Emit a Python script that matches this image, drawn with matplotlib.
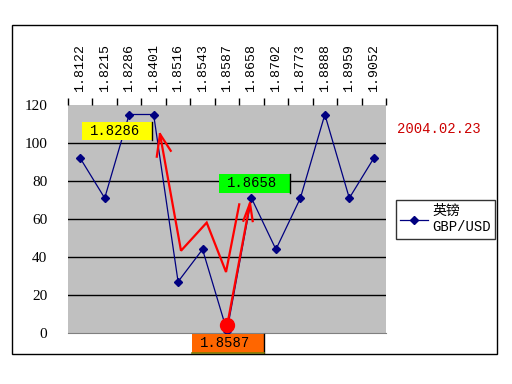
import numpy as np
import matplotlib
matplotlib.use("Agg")
import matplotlib.pyplot as plt
from matplotlib.patches import Rectangle

# data
rates = ["1.8122", "1.8215", "1.8286", "1.8401", "1.8516", "1.8543", "1.8587",
         "1.8658", "1.8702", "1.8773", "1.8888", "1.8959", "1.9052"]
values = [92, 71, 115, 115, 27, 44, 1, 71, 44, 71, 115, 71, 92]
yticks = [0, 20, 40, 60, 80, 100, 120]
series_name = "英镑\nGBP/USD"
date_text = "2004.02.23"

# hand drawn red strokes (data coords)
red_path1 = [(6.50, 67.7), (5.96, 32.1), (5.17, 58.1), (4.12, 43.3), (3.26, 104.7)]
red_head1 = [(3.13, 92.8), (3.26, 104.7), (3.70, 95.9)]
red_path2 = [(6.01, 4.2), (6.94, 68.3)]
red_head2 = [(6.67, 59.1), (6.94, 68.3), (7.05, 58.9)]
red_dot = (6.0, 4.2)

# label boxes: text, x0, x1, y0, y1, colour
boxes = [("1.8286", 0.07, 2.94, 101.5, 111.0, "#ffff00"),
         ("1.8658", 5.67, 8.58, 73.7, 83.7, "#00ff00"),
         ("1.8587", 4.57, 7.50, -10.5, -0.5, "#ff6600")]

mono = ["Liberation Mono", "Noto Sans CJK SC", "DejaVu Sans"]

fig = plt.figure(figsize=(5.12, 3.84), dpi=100)
fig.patch.set_facecolor("white")
fig.add_artist(Rectangle((12/512, 30/384), 485/512, 329/384, transform=fig.transFigure,
                         fill=False, edgecolor="black", lw=1))

ax = fig.add_axes([68/512, 51/384, 318/512, 228/384])
ax.set_facecolor("#c0c0c0")
x = np.arange(len(values))
ax.set_xlim(-0.5, len(values) - 0.5)
ax.set_ylim(0, 120)

for yv in yticks[1:-1]:
    ax.axhline(yv, color="black", lw=1, zorder=1)

line, = ax.plot(x, values, color="#000080", lw=0.9, marker="D", ms=4,
                mec="#000080", mfc="#000080", zorder=3, label=series_name)

# category labels on top
ax.xaxis.tick_top()
ax.set_xticks(x)
ax.set_xticklabels(rates, rotation=90, family=mono, fontsize=9.5)
ax.set_xticks(np.arange(-0.5, len(values)), minor=True)
ax.tick_params(axis="x", which="major", length=0, pad=9)
ax.tick_params(axis="x", which="minor", length=5, width=1, color="black", top=True, bottom=False)

ax.set_yticks(yticks)
ax.set_yticklabels([str(v) for v in yticks], family="Liberation Serif", fontsize=11)
ax.tick_params(axis="y", length=0, pad=15)

for s in ["top", "left", "right"]:
    ax.spines[s].set_visible(False)
ax.spines["bottom"].set_color("#808080")

# red hand drawn arrows
for pts in [red_path1, red_head1, red_path2, red_head2]:
    px, py = zip(*pts)
    ax.plot(px, py, color="red", lw=1.6, zorder=4, solid_joinstyle="miter")
ax.plot(*red_dot, marker="o", ms=10, color="red", zorder=5, clip_on=False)

# coloured value boxes
for txt, x0, x1, y0, y1, col in boxes:
    ax.add_patch(Rectangle((x0, y0), x1 - x0, y1 - y0, facecolor=col, edgecolor="none",
                           zorder=6, clip_on=False))
    ax.plot([x1, x1], [y0, y1], color="black", lw=1, zorder=7, clip_on=False)
    ax.text(x0 + 0.33, (y0 + y1) / 2, txt, family=mono, fontsize=10, ha="left", va="center",
            zorder=8, clip_on=False)
ax.plot([boxes[2][1], boxes[2][2]], [boxes[2][3], boxes[2][3]], color="#808000", lw=1.2,
        zorder=7, clip_on=False)

fig.text(0.857, 0.664, date_text, color="#cc0000", family=mono, fontsize=10,
         ha="center", va="center")

leg = fig.legend(handles=[line], loc="upper left", bbox_to_anchor=(396/512, 1 - 200/384),
                 frameon=True, fancybox=False, prop={"family": mono, "size": 10},
                 handlelength=2.0, handletextpad=0.3, borderpad=0.3, borderaxespad=0)
leg.get_frame().set_edgecolor("black")
leg.get_frame().set_linewidth(1)

fig.savefig("out.png", dpi=100)
